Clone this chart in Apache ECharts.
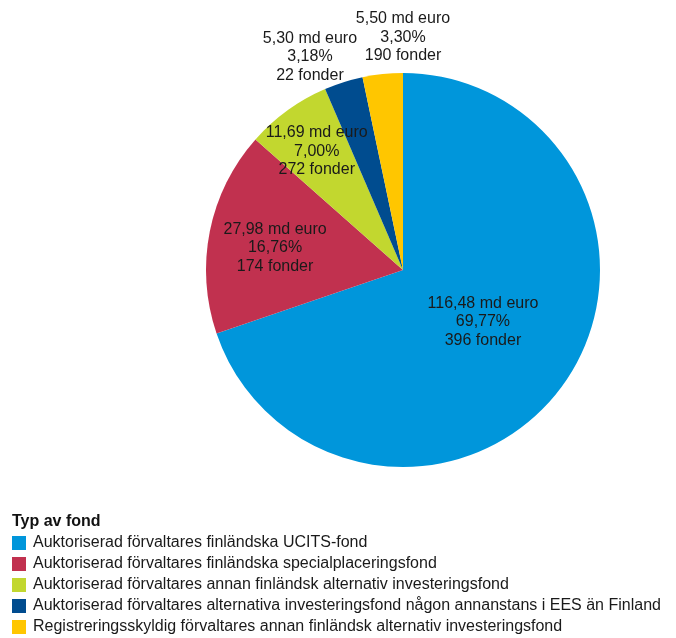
<!DOCTYPE html>
<html>
<head>
<meta charset="utf-8">
<script src="https://cdn.jsdelivr.net/npm/echarts@6/dist/echarts.min.js"></script>
<style>
  html, body { margin: 0; padding: 0; background: #fff; }
  #chart { width: 676px; height: 638px; }
</style>
</head>
<body>
<div id="chart"></div>
<script>
// Fund types, assets (billion euro), share of total and number of funds
const fundTypes = [
  'Auktoriserad förvaltares finländska UCITS-fond',
  'Auktoriserad förvaltares finländska specialplaceringsfond',
  'Auktoriserad förvaltares annan finländsk alternativ investeringsfond',
  'Auktoriserad förvaltares alternativa investeringsfond någon annanstans i EES än Finland',
  'Registreringsskyldig förvaltares annan finländsk alternativ investeringsfond'
];
const assetsBn = [116.48, 27.98, 11.69, 5.30, 5.50];
const sharePct = [69.77, 16.76, 7.00, 3.18, 3.30];
const fundCounts = [396, 174, 272, 22, 190];

const colors = ['#0096DB', '#C1314F', '#C2D72F', '#004C8F', '#FFC600'];

// Label anchors: angle in degrees (counter-clockwise from 3 o'clock) and distance as a fraction of the radius
const labelAnchors = [
  { angle: -33, dist: 0.484 },
  { angle: 170.2, dist: 0.659 },
  { angle: 126, dist: 0.745 },
  { angle: 113.6, dist: 1.18 },
  { angle: 90, dist: 1.18 }
];

const CX = 403, CY = 270, R = 197;
const FONT = 'Liberation Sans, Arial, sans-serif';
const fmt = v => v.toFixed(2).replace('.', ',');

const chart = echarts.init(document.getElementById('chart'), null, { renderer: 'canvas' });

chart.setOption({
  animation: false,
  color: colors,
  textStyle: { fontFamily: FONT },
  title: {
    text: 'Typ av fond',
    left: 7,
    top: 509,
    textStyle: { fontSize: 16, fontWeight: 'bold', color: '#111', fontFamily: FONT }
  },
  legend: {
    orient: 'vertical',
    left: 12,
    top: 535,
    height: 120,
    padding: 0,
    icon: 'rect',
    itemWidth: 14,
    itemHeight: 14,
    itemGap: 5,
    selectedMode: false,
    data: fundTypes,
    textStyle: { fontSize: 16, color: '#1a1a1a', padding: [0, 0, 0, 2], fontFamily: FONT }
  },
  series: [{
    type: 'pie',
    center: [CX, CY],
    radius: R,
    startAngle: 90,
    clockwise: true,
    silent: true,
    itemStyle: { borderWidth: 0 },
    label: {
      show: true,
      position: 'inside',
      fontSize: 16,
      lineHeight: 18.5,
      color: '#1a1a1a',
      align: 'center',
      fontFamily: FONT,
      formatter: p => fmt(assetsBn[p.dataIndex]) + ' md euro\n' +
        fmt(sharePct[p.dataIndex]) + '%\n' + fundCounts[p.dataIndex] + ' fonder'
    },
    labelLine: { show: false },
    labelLayout: p => {
      const a = labelAnchors[p.dataIndex];
      const rad = a.angle * Math.PI / 180;
      return {
        x: CX + R * a.dist * Math.cos(rad),
        y: CY - R * a.dist * Math.sin(rad),
        align: 'center',
        verticalAlign: 'middle'
      };
    },
    data: fundTypes.map((name, i) => ({ name, value: assetsBn[i] }))
  }]
});
</script>
</body>
</html>
